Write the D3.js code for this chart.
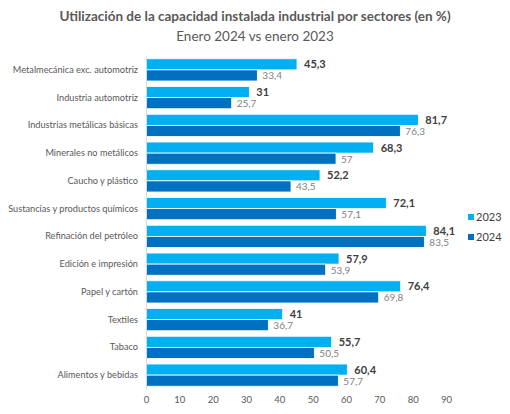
<!DOCTYPE html>
<html><head><meta charset="utf-8">
<script src="https://cdn.jsdelivr.net/npm/d3@7"></script>
<style>body{margin:0;background:#fff}svg{font-family:Lato,"Open Sans",sans-serif}</style>
</head><body><svg id="c" width="510" height="414"></svg>
<script>
const categories = ["Metalmecánica exc. automotriz","Industria automotriz","Industrias metálicas básicas","Minerales no metálicos","Caucho y plástico","Sustancias y productos químicos","Refinación del petróleo","Edición e impresión","Papel y cartón","Textiles","Tabaco","Alimentos y bebidas"];
const values2023 = [45.3,31,81.7,68.3,52.2,72.1,84.1,57.9,76.4,41,55.7,60.4];
const values2024 = [33.4,25.7,76.3,57,43.5,57.1,83.5,53.9,69.8,36.7,50.5,57.7];
const seriesNames = ["2023","2024"];
const xTicks = [0,10,20,30,40,50,60,70,80,90];
const colors = ["#00B0F0","#0070C0"];

const svg = d3.select("#c");
const fmt = v => String(v).replace(".", ",");
const x = d3.scaleLinear().domain([0,90]).range([146,446]);
const y = d3.scaleBand().domain(categories).range([56,389]).paddingInner(0.2).paddingOuter(0.1);
const sub = d3.scaleBand().domain(seriesNames).range([0,y.bandwidth()]);

svg.append("text").attr("x",255).attr("y",21).attr("text-anchor","middle")
  .attr("font-size",13.5).attr("font-weight","bold").attr("fill","#595959")
  .text("Utilización de la capacidad  instalada industrial por sectores (en %)");
svg.append("text").attr("x",255).attr("y",41).attr("text-anchor","middle")
  .attr("font-size",13.5).attr("fill","#595959").text("Enero 2024 vs enero 2023");

const data = [values2023, values2024];
const g = svg.append("g");
categories.forEach((c,i)=>{
  seriesNames.forEach((s,j)=>{
    const v = data[j][i];
    g.append("rect").attr("x",x(0)).attr("y",y(c)+sub(s)).attr("width",x(v)-x(0))
      .attr("height",sub.bandwidth()).attr("fill",colors[j]).attr("stroke","#fff").attr("stroke-width",0.8);
    g.append("text").attr("x",x(v)+(j===0?7:5)).attr("y",y(c)+sub(s)+sub.bandwidth()/2+4)
      .attr("font-size",j===0?11:10).attr("font-weight",j===0?"bold":"normal")
      .attr("fill",j===0?"#404040":"#7f7f7f").text(fmt(v));
  });
});

const yAxis = svg.append("g").attr("transform","translate(146,0)")
  .call(d3.axisLeft(y).tickSize(0).tickPadding(8));
yAxis.select(".domain").attr("stroke","#d9d9d9");
yAxis.selectAll("text").attr("font-size",9.2).attr("fill","#595959").attr("font-family","Lato,sans-serif");

const xAxis = svg.append("g").attr("transform","translate(0,391)")
  .call(d3.axisBottom(x).tickValues(xTicks).tickSize(0).tickPadding(5));
xAxis.select(".domain").remove();
xAxis.selectAll("text").attr("font-size",9.5).attr("fill","#595959").attr("font-family","Lato,sans-serif");

const leg = svg.append("g");
seriesNames.forEach((s,j)=>{
  leg.append("rect").attr("x",468).attr("y",214+j*20).attr("width",6).attr("height",6).attr("fill",colors[j]);
  leg.append("text").attr("x",476).attr("y",221+j*20).attr("font-size",11).attr("fill","#404040").text(s);
});
</script></body></html>
